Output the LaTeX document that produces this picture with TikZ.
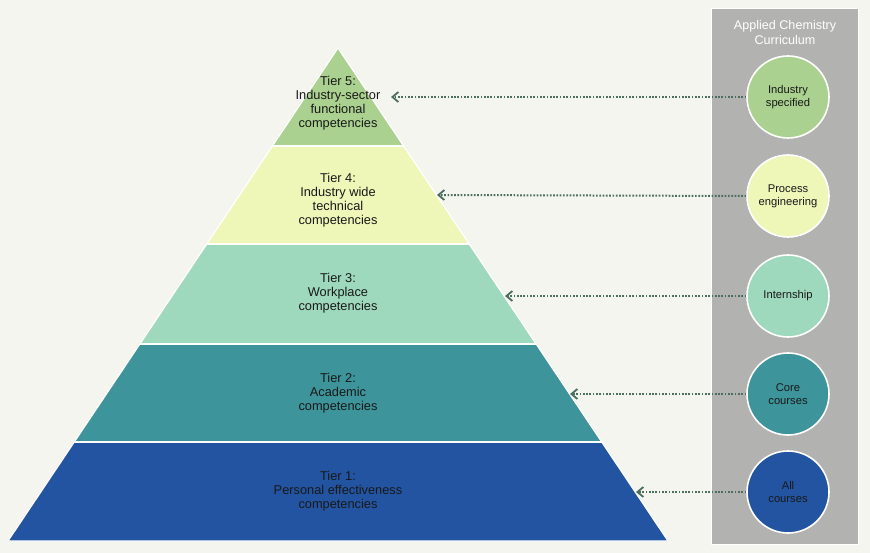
\documentclass[tikz,border=0pt]{standalone}
\usepackage{fontspec}
\setmainfont{Liberation Sans}
\usetikzlibrary{arrows.meta}
\definecolor{bgc}{HTML}{F5F5F0}
\definecolor{panelc}{HTML}{B2B2B0}
\definecolor{cfive}{HTML}{AAD18F}
\definecolor{cfour}{HTML}{EEF6B8}
\definecolor{cthree}{HTML}{9ED9BD}
\definecolor{ctwo}{HTML}{3D949A}
\definecolor{cone}{HTML}{2254A1}
\definecolor{arrc}{HTML}{4C6E5E}
\tikzset{
  tiertext/.style={align=center, font=\fontsize{12.8}{14.2}\selectfont, text=black!90},
  course/.style={circle, draw=white, line width=1.6pt, minimum size=82pt, inner sep=0pt, align=center, font=\fontsize{11.2}{13}\selectfont, text=black!90},
  link/.style={arrc, line width=2pt, dash pattern=on 1.7pt off 1.6pt, -{Straight Barb[length=6pt,width=10pt,line width=1.8pt]}}
}
\begin{document}
\begin{tikzpicture}[x=1pt,y=-1pt]
\fill[bgc] (0,0) rectangle (870,553);
\useasboundingbox (0,0) rectangle (870,553);
% pyramid bands
\begin{scope}
\clip (338,48) -- (668,541) -- (8,541) -- cycle;
\fill[cfive] (0,40) rectangle (870,146);
\fill[cfour] (0,146) rectangle (870,244);
\fill[cthree] (0,244) rectangle (870,344);
\fill[ctwo] (0,344) rectangle (870,442);
\fill[cone] (0,442) rectangle (870,545);
\draw[white, line width=2pt] (0,146) -- (870,146) (0,244) -- (870,244) (0,344) -- (870,344) (0,442) -- (870,442);
\end{scope}
\draw[white, line width=1.2pt, line join=round] (338,48) -- (668,541) -- (8,541) -- cycle;
% tier labels
\node[tiertext] (t5) at (338,103) {Tier 5:\\Industry-sector\\functional\\competencies};
\node[tiertext] (t4) at (338,200) {Tier 4:\\Industry wide\\technical\\competencies};
\node[tiertext] (t3) at (338,293) {Tier 3:\\Workplace\\competencies};
\node[tiertext] (t2) at (338,393) {Tier 2:\\Academic\\competencies};
\node[tiertext] (t1) at (338,491) {Tier 1:\\Personal effectiveness\\competencies};
% panel
\node[fill=panelc, draw=white, line width=1.5pt, minimum width=147pt, minimum height=536pt, inner sep=0pt] (panel) at (785,276.5) {};
\node[align=center, text=white, font=\fontsize{12.6}{15}\selectfont] (ptitle) at (785,32) {Applied Chemistry\\Curriculum};
% circles
\node[course, fill=cfive] (c5) at (788,97) {Industry\\specified};
\node[course, fill=cfour] (c4) at (788,196) {Process\\engineering};
\node[course, fill=cthree] (c3) at (788,296) {Internship};
\node[course, fill=ctwo] (c2) at (788,394) {Core\\courses};
\node[course, fill=cone] (c1) at (788,492) {All\\courses};
% arrow targets
\coordinate (e5) at (391,97);
\coordinate (e4) at (437,195);
\coordinate (e3) at (505,296);
\coordinate (e2) at (570,394);
\coordinate (e1) at (636,492);
\draw[link] (c5.west) -- (e5);
\draw[link] (c4.west) -- (e4);
\draw[link] (c3.west) -- (e3);
\draw[link] (c2.west) -- (e2);
\draw[link] (c1.west) -- (e1);
\end{tikzpicture}
\end{document}
